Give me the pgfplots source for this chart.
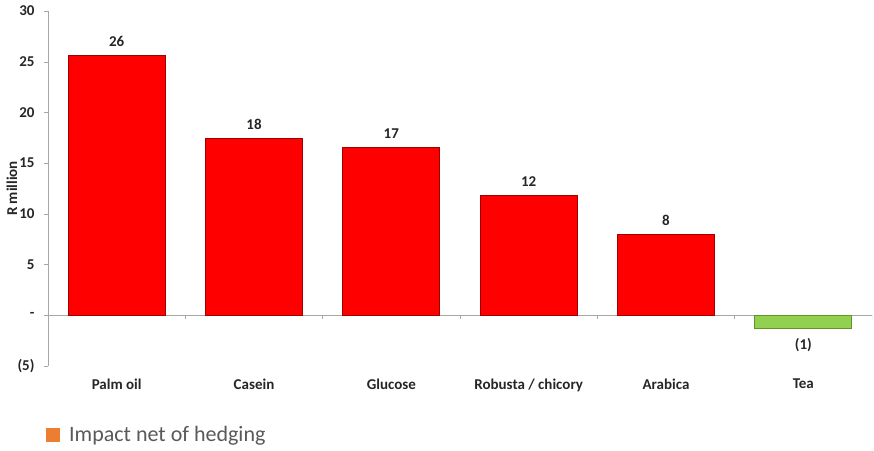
\documentclass[border=0pt]{standalone}
\usepackage{fontspec}
\setmainfont{Carlito}
\usepackage{pgfplots}
\pgfplotsset{compat=1.18}
\usepackage{pgfplotstable}
\definecolor{barred}{RGB}{255,0,0}
\definecolor{baredge}{RGB}{160,0,0}
\definecolor{teagreen}{RGB}{146,208,80}
\definecolor{teaedge}{RGB}{96,150,40}
\definecolor{axisgray}{RGB}{166,166,166}
\definecolor{legorange}{RGB}{237,125,49}
\definecolor{legtext}{RGB}{89,89,89}
\definecolor{labtext}{RGB}{38,38,38}
\pgfplotstableread{
x y lab
0 25.65 26
1 17.45 18
2 16.55 17
3 11.85 12
4 8.0 8
}\redbars
\pgfplotstableread{
x y lab
5 -1.35 (1)
}\greenbars
\begin{document}
\begin{tikzpicture}
\useasboundingbox (-48pt,-84pt) rectangle (826pt,366pt);
\begin{axis}[
  at={(0,0)}, anchor=south west,
  scale only axis, width=824pt, height=355pt,
  xmin=-0.5, xmax=5.5, ymin=-5, ymax=30,
  axis y line=left, axis x line=bottom,
  y axis line style={axisgray,-},
  x axis line style={draw=none,-},
  ytick={-5,0,5,10,15,20,25,30},
  yticklabels={(5),-,5,10,15,20,25,30},
  xtick={0,1,2,3,4,5},
  xticklabels={Palm oil,Casein,Glucose,Robusta / chicory,Arabica,Tea},
  x tick style={draw=none},
  y tick style={axisgray},
  tick align=outside, major tick length=4pt,
  ticklabel style={font=\fontsize{15}{18}\selectfont\bfseries, text=labtext},
  yticklabel style={xshift=-6pt},
  xticklabel style={yshift=-5pt},
  ylabel={R million},
  ylabel style={font=\fontsize{15}{18}\selectfont\bfseries, text=labtext, at={(axis description cs:0,0.5)}, anchor=center, yshift=36pt},
  ybar, bar width=97pt, bar shift=0pt,
  nodes near coords, point meta=explicit symbolic,
  legend style={at={(rel axis cs:0,0)}, anchor=west, xshift=-2pt, yshift=-69pt, draw=none, fill=none, font=\fontsize{22}{25}\selectfont, text=legtext, inner sep=0pt},
  legend cell align=left,
]
\draw[axisgray] (axis cs:-0.5,0) -- (axis cs:5.5,0);
\pgfplotsinvokeforeach{0.5,1.5,2.5,3.5,4.5,5.5}{\draw[axisgray] (axis cs:#1,0) -- ([yshift=-4pt]axis cs:#1,0);}
\addplot[fill=barred, draw=baredge, line width=1pt, forget plot,
  nodes near coords style={font=\fontsize{15}{18}\selectfont\bfseries, text=labtext, anchor=south, yshift=5pt}] table[x=x,y=y,meta=lab]{\redbars};
\addplot[fill=teagreen, draw=teaedge, line width=1pt, forget plot,
  nodes near coords style={font=\fontsize{15}{18}\selectfont\bfseries, text=labtext, anchor=north, yshift=-6pt}] table[x=x,y=y,meta=lab]{\greenbars};
\addlegendimage{legend image code/.code={\fill[legorange,draw=none] (0pt,-7pt) rectangle (14pt,7pt); \path[draw=none,fill=none] (0pt,0pt) -- (21pt,0pt);}}
\addlegendentry{Impact net of hedging}
\end{axis}
\end{tikzpicture}
\end{document}
